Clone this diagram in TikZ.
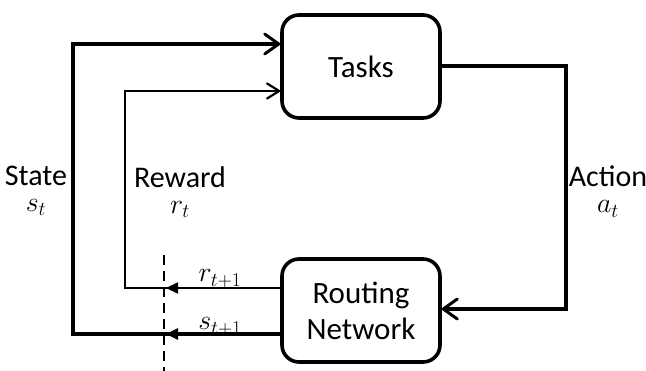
\RequirePackage{fix-cm}
\documentclass[tikz,border=0pt]{standalone}
\usepackage{fontspec}
\setmainfont{Carlito}
\usetikzlibrary{arrows.meta}
\newcommand{\mth}[1]{{\fontsize{28}{26}\selectfont$#1$}}
\begin{document}
\begin{tikzpicture}[x=1pt,y=-1pt,
  box/.style={draw,line width=3.6pt,rounded corners=17pt,minimum width=158pt,minimum height=103pt,font=\fontsize{31}{36}\selectfont,align=center,inner sep=0pt},
  thickln/.style={line width=4pt},
  thinln/.style={line width=2.2pt},
  openarr/.style={-{Straight Barb[length=14pt,width=20pt,line width=3pt,round]}},
  thinopen/.style={-{Straight Barb[length=12pt,width=15pt,line width=2.2pt,round]}},
  solidarr/.style={-{Triangle[length=12pt,width=11pt]}},
  lbl/.style={font=\fontsize{30}{26}\selectfont,align=center,anchor=north,inner sep=0pt},
  mlbl/.style={font=\fontsize{28}{32}\selectfont,anchor=base,inner sep=0pt}]
\useasboundingbox (0,0) rectangle (646,371);
\node[box] (tasks) at (361,66.5) {Tasks};
\node[box] (route) at (361,310.5) {Routing\\Network};
\coordinate (sL) at (73,44);
\coordinate (sB) at (73,334);
\coordinate (rL) at (125,91);
\coordinate (rB) at (125,288);
\coordinate (aR) at (566,66);
\coordinate (aB) at (566,309);
\coordinate (cut) at (166,0);
\coordinate (dT) at (164,255);
\coordinate (dB) at (164,371);
% state
\draw[thickln,openarr] (route.west |- sB) -- (sB) -- (sL) -- (tasks.west |- sL);
% reward
\draw[thinln,thinopen] (route.west |- rB) -- (rB) -- (rL) -- (tasks.west |- rL);
% arrowheads at cut
\draw[thickln,solidarr] (route.west |- sB) -- (cut |- sB);
\draw[thinln,solidarr] (route.west |- rB) -- (cut |- rB);
% action
\draw[thickln,openarr] (tasks.east |- aR) -- (aR) -- (aB) -- (route.east |- aB);
% dashed
\draw[line width=1.6pt,dash pattern=on 10pt off 6pt] (dT) -- (dB);
% labels
\node[lbl] (st) at (36,166) {State\\\mth{s_t}};
\node[lbl] (rw) at (180,166) {Reward\\\mth{r_t}};
\node[lbl] (ac) at (608,166) {Action\\\mth{a_t}};
\node[mlbl] (r1) at (220,282) {$r_{t+1}$};
\node[mlbl] (s1) at (220,330) {$s_{t+1}$};
\end{tikzpicture}
\end{document}
